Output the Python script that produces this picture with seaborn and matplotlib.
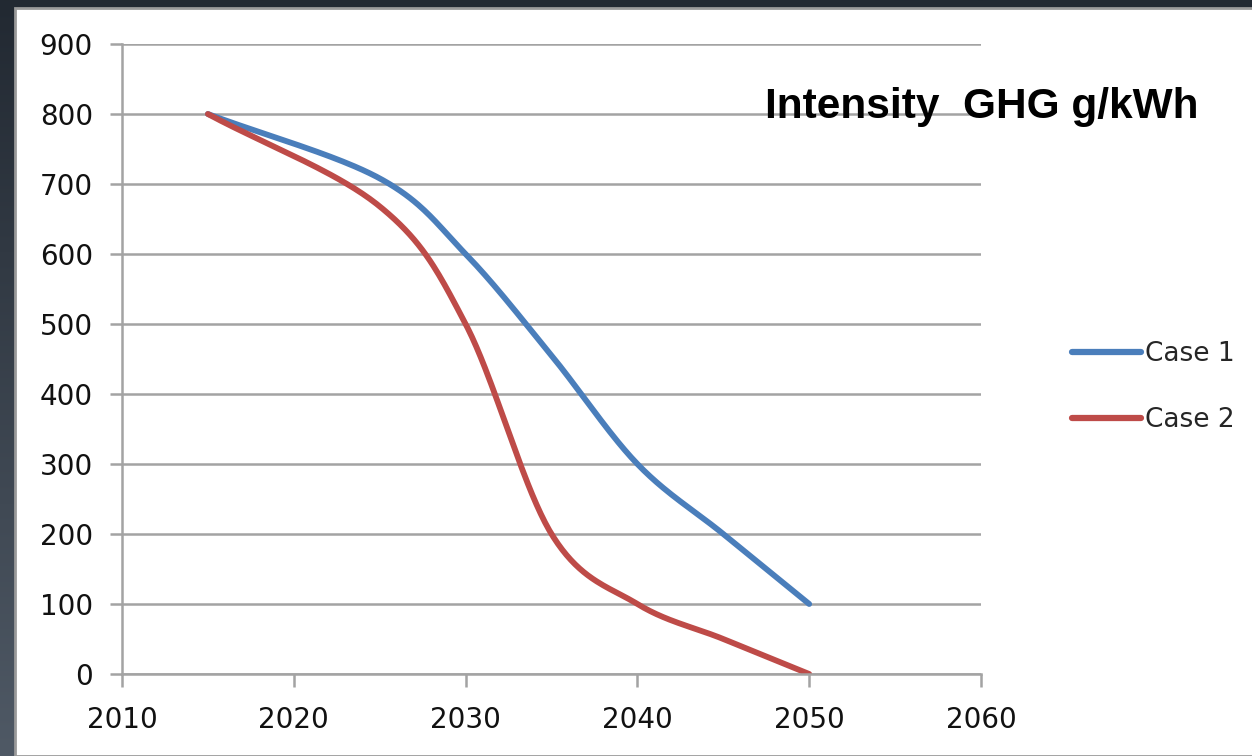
import numpy as np
import pandas as pd
import matplotlib
matplotlib.use('Agg')
import matplotlib.pyplot as plt
import seaborn as sns
from matplotlib.patches import Rectangle

# data (Excel smoothed lines)
years = [2015, 2025, 2030, 2035, 2040, 2045, 2050]
case1 = [800, 708, 600, 455, 300, 200, 100]
case2 = [800, 668, 500, 200, 100, 50, 0]
series_names = ['Case 1', 'Case 2']
x_ticks = [2010, 2020, 2030, 2040, 2050, 2060]
y_ticks = [0, 100, 200, 300, 400, 500, 600, 700, 800, 900]
title_text = 'Intensity  GHG g/kWh'

colors = {'Case 1': '#4a7ebb', 'Case 2': '#be4b48'}


def smooth(xs, ys, steps=40):
    # Catmull-Rom curve, same look as Excel's "smoothed line"
    xs = np.asarray(xs, float)
    ys = np.asarray(ys, float)
    px = np.concatenate([[2 * xs[0] - xs[1]], xs, [2 * xs[-1] - xs[-2]]])
    py = np.concatenate([[2 * ys[0] - ys[1]], ys, [2 * ys[-1] - ys[-2]]])
    out_x, out_y = [], []
    t = np.linspace(0, 1, steps, endpoint=False)
    for i in range(1, len(px) - 2):
        for p, out in ((px, out_x), (py, out_y)):
            p0, p1, p2, p3 = p[i - 1], p[i], p[i + 1], p[i + 2]
            out.extend(0.5 * (2 * p1 + (-p0 + p2) * t + (2 * p0 - 5 * p1 + 4 * p2 - p3) * t ** 2
                              + (-p0 + 3 * p1 - 3 * p2 + p3) * t ** 3))
    out_x.append(xs[-1])
    out_y.append(ys[-1])
    return out_x, out_y


frames = []
for name, vals in zip(series_names, [case1, case2]):
    sx, sy = smooth(years, vals)
    frames.append(pd.DataFrame({'Year': sx, 'Value': sy, 'Series': name}))
df = pd.concat(frames, ignore_index=True)

sns.set_style('white')
plt.rcParams['font.family'] = ['DejaVu Sans']

fig = plt.figure(figsize=(12.52, 7.56), dpi=100)

# dark slide background with gradient, white chart area
bg = fig.add_axes([0, 0, 1, 1], zorder=-10)
grad = np.linspace(0, 1, 256).reshape(-1, 1)
cmap = matplotlib.colors.LinearSegmentedColormap.from_list('bg', ['#222932', '#4f5965'])
bg.imshow(grad, aspect='auto', cmap=cmap, extent=[0, 1, 0, 1], origin='upper')
bg.add_patch(Rectangle((15 / 1252, 0), 1, 1 - 8 / 756, facecolor='white',
                       edgecolor='#9a9a9a', lw=2, transform=bg.transAxes))
bg.set_xlim(0, 1)
bg.set_ylim(0, 1)
bg.axis('off')

ax = fig.add_axes([122 / 1252, 1 - 674 / 756, (981 - 122) / 1252, (674 - 44) / 756])
ax.set_facecolor('none')

sns.lineplot(data=df, x='Year', y='Value', hue='Series', palette=colors,
             linewidth=4.2, sort=False, estimator=None, ax=ax, legend=False,
             solid_capstyle='round')

ax.set_xlim(2010, 2060)
ax.set_ylim(0, 900)
ax.set_xticks(x_ticks)
ax.set_yticks(y_ticks)
ax.set_xlabel('')
ax.set_ylabel('')
ax.yaxis.grid(True, color='#a3a3a3', lw=1.8)
ax.set_axisbelow(True)
for side in ['top', 'right']:
    ax.spines[side].set_visible(False)
for side in ['left', 'bottom']:
    ax.spines[side].set_color('#a3a3a3')
    ax.spines[side].set_linewidth(1.8)
ax.tick_params(axis='both', which='both', length=9, width=1.8, color='#a3a3a3',
               labelsize=20, labelcolor='#111111', direction='out', left=True, bottom=True)
ax.tick_params(axis='y', pad=12)
ax.tick_params(axis='x', pad=14)

fig.text(765 / 1252, 1 - 118 / 756, title_text, fontsize=30.5, fontweight='bold',
         family='Liberation Sans', color='black', ha='left', va='baseline')

# legend on the right
leg_handles = [plt.Line2D([], [], color=colors[n], lw=4.5, solid_capstyle='round') for n in series_names]
fig.legend(leg_handles, series_names, loc='center left', bbox_to_anchor=(1061 / 1252, 1 - 387 / 756),
           frameon=False, fontsize=19, handlelength=2.65, handletextpad=0.15, labelspacing=1.5,
           borderaxespad=0)

fig.savefig('out.png', dpi=100)
